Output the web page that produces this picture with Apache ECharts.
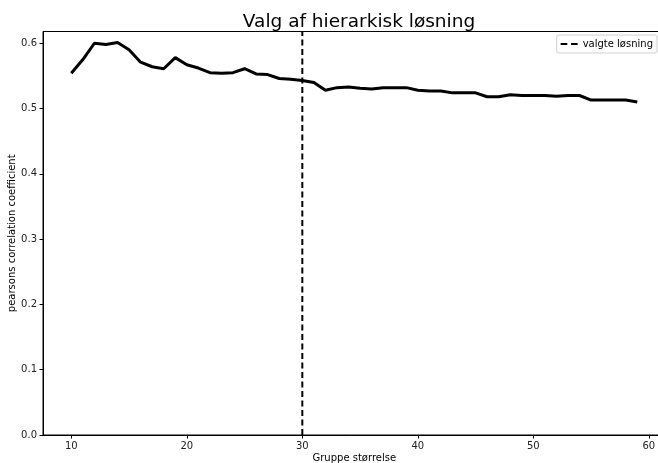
<!DOCTYPE html>
<html>
<head>
<meta charset="utf-8">
<script src="https://cdn.jsdelivr.net/npm/echarts@6/dist/echarts.min.js"></script>
<style>html,body{margin:0;padding:0;background:#fff;}#c{width:658px;height:463px;}</style>
</head>
<body>
<div id="c"></div>
<script>
var groupSizes = [10,11,12,13,14,15,16,17,18,19,20,21,22,23,24,25,26,27,28,29,30,31,32,33,34,35,36,37,38,39,40,41,42,43,44,45,46,47,48,49,50,51,52,53,54,55,56,57,58,59];
var pearson = [0.554,0.575,0.600,0.598,0.601,0.590,0.571,0.564,0.561,0.578,0.567,0.562,0.555,0.554,0.555,0.561,0.553,0.552,0.546,0.545,0.543,0.540,0.528,0.532,0.533,0.531,0.530,0.532,0.532,0.532,0.528,0.527,0.527,0.524,0.524,0.524,0.518,0.518,0.521,0.520,0.520,0.520,0.519,0.520,0.520,0.513,0.513,0.513,0.513,0.510];
var chosen = 30;
var xTicks = [10,20,30,40,50,60];
var yTicks = [0,0.1,0.2,0.3,0.4,0.5,0.6];
var xMin = 7.55, xMax = 61.45, yMin = 0, yMax = 0.618;

var chart = echarts.init(document.getElementById('c'), null, {renderer:'canvas'});
var font = 'DejaVu Sans';
chart.setOption({
  animation: false,
  backgroundColor: '#fff',
  title: {
    text: 'Valg af hierarkisk løsning',
    left: 354, top: 8, textAlign: 'center',
    textStyle: {fontFamily: font, fontSize: 18.5, fontWeight: 'normal', color: '#000'}
  },
  legend: {
    right: 1, top: 35,
    data: [{name: 'valgte løsning', icon: 'path://M0,0 h7 v2 h-7 z M11,0 h7 v2 h-7 z'}],
    itemWidth: 17, itemHeight: 2, itemGap: 5,
    padding: [4, 4, 4, 4],
    borderColor: '#d0d0d0', borderWidth: 1, borderRadius: 2,
    backgroundColor: '#fff',
    textStyle: {fontFamily: font, fontSize: 10, color: '#000'}
  },
  grid: {
    left: 43, top: 31.5, width: 622.6, height: 403.5,
    show: true, borderColor: '#000', borderWidth: 1,
    containLabel: false, outerBoundsMode: 'none'
  },
  xAxis: {
    type: 'value', min: xMin, max: xMax,
    name: 'Gruppe størrelse', nameLocation: 'middle', nameGap: 18, nameMoveOverlap: false,
    nameTextStyle: {fontFamily: font, fontSize: 10, color: '#000'},
    axisLine: {show: true, onZero: false, lineStyle: {color: '#000', width: 1}},
    axisTick: {show: true, customValues: xTicks, length: 3.5, lineStyle: {color: '#000'}},
    axisLabel: {customValues: xTicks, fontFamily: font, fontSize: 10, color: '#222', margin: 6},
    splitLine: {show: false}
  },
  yAxis: {
    type: 'value', min: yMin, max: yMax,
    name: 'pearsons correlation coefficient', nameLocation: 'middle', nameGap: 26, nameMoveOverlap: false,
    nameTextStyle: {fontFamily: font, fontSize: 10, color: '#000'},
    axisLine: {show: true, onZero: false, lineStyle: {color: '#000', width: 1}},
    axisTick: {show: true, customValues: yTicks, length: 3.5, lineStyle: {color: '#000'}},
    axisLabel: {customValues: yTicks, fontFamily: font, fontSize: 10, color: '#222', margin: 6,
      formatter: function(v){ return v.toFixed(1); }},
    splitLine: {show: false}
  },
  series: [
    {
      name: 'pearson', type: 'line', symbol: 'none',
      data: groupSizes.map(function(g, i){ return [g, pearson[i]]; }),
      lineStyle: {color: '#000', width: 3},
      itemStyle: {color: '#000'}
    },
    {
      name: 'valgte løsning', type: 'line', symbol: 'none',
      data: [[chosen, yMin], [chosen, yMax]],
      lineStyle: {color: '#000', width: 2, type: [6, 3.5]},
      itemStyle: {color: '#000'}
    }
  ]
});
</script>
</body>
</html>
